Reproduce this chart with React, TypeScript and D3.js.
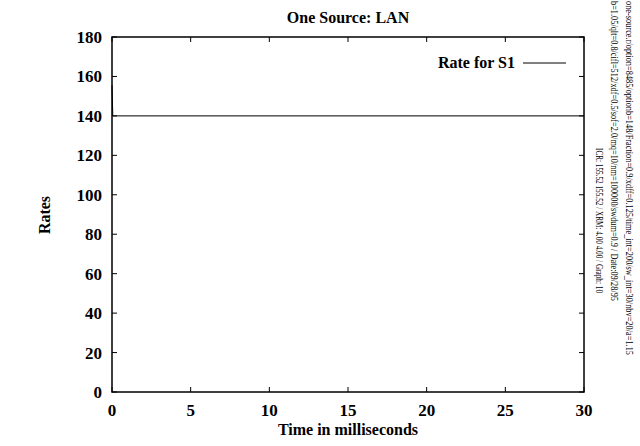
import React from "react";
import * as d3 from "d3";

const timeMs: number[] = [0, 0.05, 30];
const rateS1: number[] = [155.52, 140, 140];
const xTicks: number[] = [0, 5, 10, 15, 20, 25, 30];
const yTicks: number[] = [0, 20, 40, 60, 80, 100, 120, 140, 160, 180];
const title = "One Source: LAN";
const xLabel = "Time in milliseconds";
const yLabel = "Rates";
const legendLabel = "Rate for S1";
const sideNotes: string[] = [
  "one-source.r/option=8485/optionb=148/Fraction=0.9/xdff=0.125/time_int=200/sw_int=30/nbv=20/a=1.15",
  "b=1.05/qlt=0.8/cifl=512/xdf=0.5/sof=2.0/mq=10/nm=100000/swdum=0.9 / Date:09/28/95",
  "ICR: 155.52 155.52 / XRM: 4.00 4.00 / Graph: 10",
];

export default function App() {
  const W = 640, H = 446;
  const L = 112, R = 584, T = 37, B = 392;
  const x = d3.scaleLinear().domain([0, 30]).range([L, R]);
  const y = d3.scaleLinear().domain([0, 180]).range([B, T]);
  const pts = timeMs.map((t, i) => [t, rateS1[i]] as [number, number]);
  const line = d3.line<[number, number]>().x(d => x(d[0])).y(d => y(d[1]));
  const font = "'Liberation Serif', 'Times New Roman', serif";
  const tk = 5;
  return (
    <svg width={W} height={H} style={{ position: "absolute", left: 0, top: 0, background: "#fff" }} fontFamily={font}>
      <rect x={0} y={0} width={W} height={H} fill="#fff" />
      <text x={348} y={23} textAnchor="middle" fontWeight="bold" fontSize={16}>{title}</text>
      {xTicks.map(t => (
        <g key={"x" + t}>
          <line x1={x(t)} x2={x(t)} y1={B} y2={B - tk} stroke="#000" />
          <line x1={x(t)} x2={x(t)} y1={T} y2={T + tk} stroke="#000" />
          <text x={x(t)} y={416} textAnchor="middle" fontWeight="bold" fontSize={17}>{t}</text>
        </g>
      ))}
      {yTicks.map(t => (
        <g key={"y" + t}>
          <line x1={L} x2={L + tk} y1={y(t)} y2={y(t)} stroke="#000" />
          <line x1={R} x2={R - tk} y1={y(t)} y2={y(t)} stroke="#000" />
          <text x={102} y={y(t) + 6} textAnchor="end" fontWeight="bold" fontSize={17}>{t}</text>
        </g>
      ))}
      <rect x={L} y={T} width={R - L} height={B - T} fill="none" stroke="#000" strokeWidth={1.5} />
      <path d={line(pts) || ""} fill="none" stroke="#000" strokeWidth={1} />
      <text x={348} y={435} textAnchor="middle" fontWeight="bold" fontSize={16}>{xLabel}</text>
      <text transform="translate(50,215) rotate(-90)" textAnchor="middle" fontWeight="bold" fontSize={16}>{yLabel}</text>
      <text x={515} y={68} textAnchor="end" fontWeight="bold" fontSize={16}>{legendLabel}</text>
      <line x1={523} x2={566} y1={63} y2={63} stroke="#000" />
      <text transform="translate(626,1) rotate(90)" fontSize={9.5} textLength={354} lengthAdjust="spacingAndGlyphs">{sideNotes[0]}</text>
      <text transform="translate(611,1) rotate(90)" fontSize={9.5} textLength={300} lengthAdjust="spacingAndGlyphs">{sideNotes[1]}</text>
      <text transform="translate(596,148) rotate(90)" fontSize={9.5} textLength={145} lengthAdjust="spacingAndGlyphs">{sideNotes[2]}</text>
    </svg>
  );
}
